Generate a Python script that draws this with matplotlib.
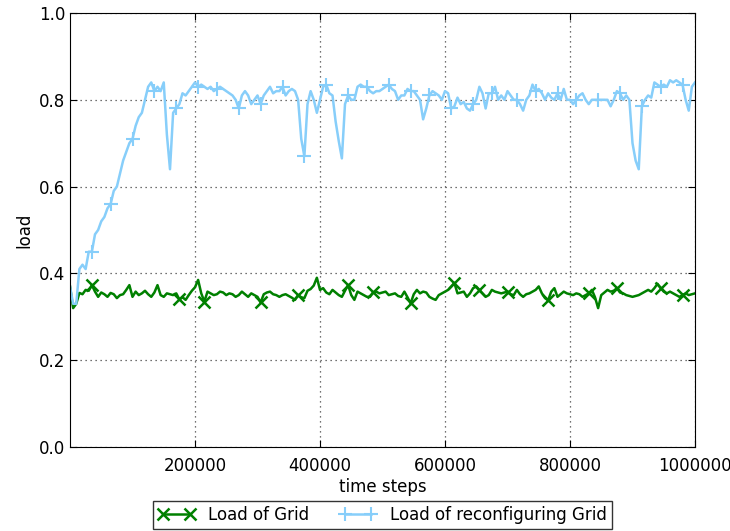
import matplotlib
matplotlib.use("Agg")
import matplotlib.pyplot as plt
import numpy as np

# time steps, one sample every 5000 steps
steps = np.arange(0, 1000001, 5000)

# load of the reconfiguring grid (light blue)
load_reconf = [
    0.37, 0.33, 0.33, 0.41, 0.42, 0.41, 0.45, 0.45, 0.49, 0.50,
    0.52, 0.53, 0.55, 0.56, 0.59, 0.60, 0.63, 0.66, 0.68, 0.70,
    0.71, 0.74, 0.76, 0.77, 0.80, 0.83, 0.84, 0.82, 0.83, 0.82,
    0.84, 0.72, 0.64, 0.77, 0.78, 0.79, 0.815, 0.81, 0.82, 0.83,
    0.84, 0.83, 0.835, 0.83, 0.825, 0.83, 0.82, 0.825, 0.83, 0.825,
    0.82, 0.815, 0.81, 0.80, 0.78, 0.81, 0.82, 0.81, 0.79, 0.80,
    0.81, 0.79, 0.81, 0.82, 0.83, 0.815, 0.82, 0.82, 0.83, 0.81,
    0.82, 0.825, 0.82, 0.80, 0.71, 0.67, 0.79, 0.82, 0.80, 0.77,
    0.80, 0.83, 0.835, 0.815, 0.81, 0.75, 0.705, 0.665, 0.79, 0.81,
    0.80, 0.80, 0.83, 0.835, 0.83, 0.83, 0.82, 0.815, 0.82, 0.82,
    0.825, 0.83, 0.835, 0.825, 0.82, 0.80, 0.81, 0.81, 0.825, 0.82,
    0.82, 0.81, 0.80, 0.755, 0.78, 0.81, 0.82, 0.815, 0.81, 0.80,
    0.82, 0.815, 0.78, 0.785, 0.805, 0.79, 0.795, 0.78, 0.775, 0.79,
    0.80, 0.83, 0.815, 0.78, 0.815, 0.815, 0.83, 0.80, 0.81, 0.80,
    0.82, 0.81, 0.80, 0.80, 0.79, 0.775, 0.80, 0.81, 0.835, 0.82,
    0.825, 0.815, 0.80, 0.815, 0.805, 0.80, 0.815, 0.80, 0.825, 0.80,
    0.80, 0.79, 0.80, 0.81, 0.815, 0.80, 0.79, 0.80, 0.80, 0.80,
    0.80, 0.80, 0.80, 0.785, 0.80, 0.82, 0.815, 0.80, 0.81, 0.80,
    0.70, 0.66, 0.64, 0.785, 0.80, 0.81, 0.805, 0.84, 0.835, 0.83,
    0.835, 0.83, 0.845, 0.84, 0.845, 0.84, 0.835, 0.80, 0.775, 0.83,
    0.84,
]

# load of the plain grid (green)
load_grid = [
    0.37, 0.32, 0.33, 0.355, 0.352, 0.362, 0.36, 0.373, 0.358, 0.346,
    0.356, 0.352, 0.346, 0.355, 0.352, 0.343, 0.35, 0.352, 0.362, 0.373,
    0.346, 0.358, 0.35, 0.354, 0.36, 0.352, 0.346, 0.356, 0.373, 0.35,
    0.346, 0.354, 0.352, 0.35, 0.354, 0.34, 0.345, 0.339, 0.35, 0.36,
    0.368, 0.385, 0.354, 0.335, 0.358, 0.354, 0.35, 0.352, 0.358, 0.356,
    0.35, 0.354, 0.352, 0.346, 0.35, 0.358, 0.352, 0.346, 0.354, 0.35,
    0.346, 0.333, 0.352, 0.356, 0.358, 0.352, 0.35, 0.346, 0.35, 0.352,
    0.348, 0.344, 0.339, 0.35, 0.345, 0.343, 0.36, 0.364, 0.372, 0.39,
    0.362, 0.366, 0.356, 0.352, 0.362, 0.356, 0.35, 0.346, 0.36, 0.373,
    0.35, 0.339, 0.358, 0.354, 0.35, 0.346, 0.346, 0.356, 0.358, 0.354,
    0.356, 0.358, 0.35, 0.352, 0.354, 0.348, 0.346, 0.358, 0.345, 0.331,
    0.352, 0.362, 0.354, 0.358, 0.356, 0.346, 0.342, 0.339, 0.35, 0.354,
    0.358, 0.362, 0.37, 0.378, 0.354, 0.356, 0.358, 0.346, 0.354, 0.366,
    0.37, 0.362, 0.354, 0.346, 0.35, 0.362, 0.358, 0.356, 0.354, 0.356,
    0.358, 0.352, 0.35, 0.362, 0.352, 0.346, 0.352, 0.354, 0.358, 0.362,
    0.37, 0.354, 0.343, 0.338, 0.358, 0.366, 0.346, 0.352, 0.358, 0.354,
    0.352, 0.35, 0.354, 0.352, 0.346, 0.35, 0.354, 0.362, 0.345, 0.32,
    0.35, 0.356, 0.362, 0.358, 0.36, 0.366, 0.356, 0.354, 0.35, 0.348,
    0.346, 0.348, 0.35, 0.354, 0.358, 0.362, 0.358, 0.366, 0.376, 0.366,
    0.358, 0.354, 0.358, 0.354, 0.35, 0.346, 0.35, 0.354, 0.35, 0.352,
    0.354,
]

# where the markers sit (sample indices)
grid_marks = [7, 35, 43, 61, 73, 89, 97, 109, 123, 131, 140, 153, 166, 175, 189, 196]
reconf_marks = [7, 13, 20, 27, 34, 41, 47, 54, 61, 68, 75, 82, 89, 95,
                102, 109, 115, 122, 129, 135, 143, 149, 156, 162, 169, 176, 183, 189, 196]

xtick_vals = [200000, 400000, 600000, 800000, 1000000]
ytick_vals = [0.0, 0.2, 0.4, 0.6, 0.8, 1.0]

plt.rcParams["font.family"] = "DejaVu Sans"
plt.rcParams["font.size"] = 12

fig = plt.figure(figsize=(7.3, 5.31), dpi=100)
ax = fig.add_axes([70/730, 1-447/531, 625/730, 434/531])

ax.plot(steps, load_grid, color="green", lw=1.8, marker="x", ms=8, mew=1.8,
        markevery=grid_marks, label="Load of Grid")
ax.plot(steps, load_reconf, color="lightskyblue", lw=1.8, marker="+", ms=10, mew=1.5,
        markevery=reconf_marks, label="Load of reconfiguring Grid")

ax.set_xlim(0, 1000000)
ax.set_ylim(0, 1.0)
ax.set_xticks(xtick_vals)
ax.set_xticklabels([str(v) for v in xtick_vals])
ax.set_yticks(ytick_vals)
ax.set_yticklabels(["%.1f" % v for v in ytick_vals])
ax.tick_params(direction="in", top=True, right=True, length=5, labelsize=12)
ax.tick_params(axis="x", pad=7)
ax.grid(True, linestyle=(0, (1, 3)), color="#444444", lw=0.9)
ax.set_xlabel("time steps", fontsize=12, labelpad=2)
ax.set_ylabel("load", fontsize=12)

leg = ax.legend(loc="upper center", bbox_to_anchor=(0.5, -0.125), ncol=2,
                fontsize=12, numpoints=2, fancybox=False, borderaxespad=0,
                handlelength=2.2, columnspacing=1.8, borderpad=0.3,
                handletextpad=0.8)
leg.get_frame().set_edgecolor("black")

fig.savefig("out.png", dpi=100)
